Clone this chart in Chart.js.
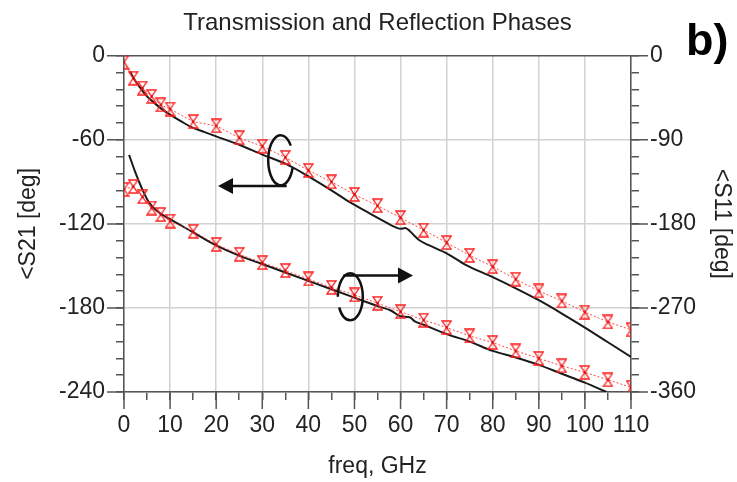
<!DOCTYPE html>
<html>
<head>
<meta charset="utf-8">
<title>Transmission and Reflection Phases</title>
<script src="https://cdn.jsdelivr.net/npm/chart.js@4/dist/chart.umd.min.js"></script>
<style>
    html, body { margin: 0; padding: 0; background: #fff; }
</style>
</head>
<body>
<canvas id="phaseChart" width="737" height="482"></canvas>
<script>
// simulated points (red markers), same frequencies for both phases
const simFreq = [0, 2, 4, 6, 8, 10, 15, 20, 25, 30, 35, 40, 45, 50, 55, 60, 65, 70, 75, 80, 85, 90, 95, 100, 105, 110];
const s21Sim = [-4.5, -16, -23, -29, -35, -38, -47, -50, -58.5, -64.6, -72.5, -81.8, -90, -99, -107, -115.6, -124.4, -133.4, -142.5, -150.5, -159.5, -167.9, -175, -183, -190, -195.6];
const s11Sim = [-143, -140, -151, -163, -170, -177, -188, -202, -212.6, -221.5, -230, -239, -248, -256, -265, -274, -283, -291, -300, -307, -316, -324, -332, -339, -347, -355];

// measured traces (black)
const s21MeasFreq = [1.3, 2, 3, 4, 5, 6, 8, 10, 12.5, 15, 17.5, 20, 25, 30, 35, 40, 45, 49, 53, 56, 58, 59, 60, 61, 62, 63, 64, 66, 70, 74, 80, 85, 90, 95, 100, 105, 110];
const s21Meas = [-11, -15.5, -20.5, -25, -29, -32, -37.5, -42, -47, -51.5, -54.5, -57.5, -63.5, -70.5, -77, -86, -96, -104.5, -112, -117.5, -121, -122.5, -123.5, -123, -125, -128.5, -131.5, -135, -141, -149, -158, -166, -174.5, -184, -194, -204.5, -215];
const s11MeasFreq = [1.1, 2.4, 3.8, 5.3, 7.1, 10, 15, 20, 25, 30, 35, 40, 45, 50, 55, 58, 60, 62, 63, 65, 70, 75, 80, 85, 90, 95, 100, 104.7];
const s11Meas = [-106, -124, -141, -156, -166, -175, -189, -203, -214, -223, -232, -241, -250, -259, -268, -273, -279, -280, -284, -288, -298, -306, -316, -323, -331, -340.5, -350, -360];

// labelled ticks
const freqTicks = [0, 10, 20, 30, 40, 50, 60, 70, 80, 90, 100, 110];
const s21Ticks = [0, -60, -120, -180, -240];
const s11Ticks = [0, -90, -180, -270, -360];

const axisColor = '#555';
const gridColor = '#d2d2d2';
const simRed = 'rgb(255, 30, 30)';

function toPoints(xs, ys) {
    return xs.map((x, i) => ({ x: x, y: ys[i] }));
}

// hourglass marker
function makeMarker() {
    const c = document.createElement('canvas');
    c.width = 11;
    c.height = 15;
    const g = c.getContext('2d');
    g.strokeStyle = simRed;
    g.lineWidth = 1.3;
    g.beginPath();
    g.moveTo(1, 1);
    g.lineTo(10, 1);
    g.lineTo(1, 14);
    g.lineTo(10, 14);
    g.closePath();
    g.stroke();
    g.fillStyle = 'rgb(190, 0, 0)';
    g.fillRect(4.5, 6.5, 2, 2);
    return c;
}
const marker = makeMarker();

// major ticks are longer, loops with arrows, panel letter
const extrasPlugin = {
    id: 'extras',
    afterDraw(chart) {
        const { ctx, chartArea, scales } = chart;
        const x = scales.x, yl = scales.y;
        const major = 17;
        ctx.save();
        ctx.strokeStyle = axisColor;
        ctx.lineWidth = 1.5;
        ctx.beginPath();
        freqTicks.forEach(v => {
            const px = x.getPixelForValue(v);
            ctx.moveTo(px, chartArea.bottom);
            ctx.lineTo(px, chartArea.bottom + major);
        });
        s21Ticks.forEach(v => {
            const py = yl.getPixelForValue(v);
            ctx.moveTo(chartArea.left, py);
            ctx.lineTo(chartArea.left - major, py);
        });
        s11Ticks.forEach(v => {
            const py = scales.y2.getPixelForValue(v);
            ctx.moveTo(chartArea.right, py);
            ctx.lineTo(chartArea.right + major, py);
        });
        ctx.stroke();

        ctx.strokeStyle = '#111';
        ctx.fillStyle = '#111';
        ctx.lineWidth = 2.5;

        // loop + arrow pointing to the left axis
        let cx = x.getPixelForValue(34), cy = yl.getPixelForValue(-74.6);
        ctx.beginPath();
        ctx.ellipse(cx, cy, 12.5, 25, 0, -0.2 * Math.PI, 0.1 * Math.PI, true);
        ctx.stroke();
        let sy = yl.getPixelForValue(-93);
        let tip = x.getPixelForValue(20.4);
        ctx.beginPath();
        ctx.moveTo(cx + 6, sy);
        ctx.lineTo(tip + 12, sy);
        ctx.stroke();
        ctx.beginPath();
        ctx.moveTo(tip, sy);
        ctx.lineTo(tip + 15, sy - 8);
        ctx.lineTo(tip + 15, sy + 8);
        ctx.closePath();
        ctx.fill();

        // loop + arrow pointing to the right axis
        cx = x.getPixelForValue(49.1);
        cy = yl.getPixelForValue(-172);
        ctx.beginPath();
        ctx.ellipse(cx, cy, 12.5, 23.5, 0, Math.PI, 0.85 * Math.PI, false);
        ctx.stroke();
        sy = yl.getPixelForValue(-156.8);
        tip = x.getPixelForValue(62.7);
        ctx.beginPath();
        ctx.moveTo(cx - 7, sy);
        ctx.lineTo(tip - 12, sy);
        ctx.stroke();
        ctx.beginPath();
        ctx.moveTo(tip, sy);
        ctx.lineTo(tip - 15, sy - 8);
        ctx.lineTo(tip - 15, sy + 8);
        ctx.closePath();
        ctx.fill();

        ctx.fillStyle = '#000';
        ctx.font = "bold 45px 'Liberation Sans', Arial, sans-serif";
        ctx.textBaseline = 'alphabetic';
        ctx.textAlign = 'left';
        ctx.fillText('b)', 686, 55);
        ctx.restore();
    }
};

Chart.defaults.font.family = "'Liberation Sans', Arial, sans-serif";
Chart.defaults.color = '#222';

const simStyle = {
    showLine: true,
    borderColor: 'rgba(255, 40, 40, 0.85)',
    borderWidth: 1,
    borderDash: [2, 2],
    pointStyle: marker,
    pointRadius: 6,
    pointHoverRadius: 6
};
const measStyle = {
    borderColor: '#1a1a1a',
    borderWidth: 2,
    pointRadius: 0,
    cubicInterpolationMode: 'monotone'
};

const tickFont = { size: 23 };

new Chart(document.getElementById('phaseChart'), {
    type: 'line',
    data: {
        datasets: [
            Object.assign({ label: '<S21 sim', data: toPoints(simFreq, s21Sim), yAxisID: 'y' }, simStyle),
            Object.assign({ label: '<S11 sim', data: toPoints(simFreq, s11Sim), yAxisID: 'y2' }, simStyle),
            Object.assign({ label: '<S21 meas', data: toPoints(s21MeasFreq, s21Meas), yAxisID: 'y' }, measStyle),
            Object.assign({ label: '<S11 meas', data: toPoints(s11MeasFreq, s11Meas), yAxisID: 'y2' }, measStyle)
        ]
    },
    options: {
        responsive: false,
        animation: false,
        events: [],
        layout: { padding: 0 },
        plugins: {
            legend: { display: false },
            tooltip: { enabled: false },
            title: {
                display: true,
                fullSize: false,
                text: 'Transmission and Reflection Phases',
                font: { size: 24, weight: 'normal' },
                color: '#222',
                padding: { top: 9, bottom: 18 }
            }
        },
        scales: {
            x: {
                type: 'linear',
                min: 0,
                max: 110,
                ticks: {
                    stepSize: 5,
                    autoSkip: false,
                    maxRotation: 0,
                    padding: 12,
                    font: tickFont,
                    color: '#222',
                    callback: v => freqTicks.includes(v) ? String(v) : ''
                },
                grid: {
                    color: c => freqTicks.includes(c.tick.value) ? gridColor : 'rgba(0,0,0,0)',
                    lineWidth: 1.5,
                    tickColor: axisColor,
                    tickLength: 8
                },
                border: { color: axisColor, width: 1.5 },
                title: { display: true, text: 'freq, GHz', font: { size: 23 }, padding: { top: 0, bottom: 2 } },
                afterFit: s => { s.height = 90; }
            },
            y: {
                position: 'left',
                min: -240,
                max: 0,
                ticks: {
                    stepSize: 12,
                    autoSkip: false,
                    padding: 11,
                    font: tickFont,
                    color: '#222',
                    callback: v => s21Ticks.includes(v) ? String(v) : ''
                },
                grid: {
                    color: c => c.tick.value === 0 ? axisColor : (s21Ticks.includes(c.tick.value) ? gridColor : 'rgba(0,0,0,0)'),
                    lineWidth: 1.5,
                    tickColor: axisColor,
                    tickLength: 8
                },
                border: { color: axisColor, width: 1.5 },
                title: { display: true, text: '<S21 [deg]', font: { size: 23 }, padding: { top: 15, bottom: 0 } },
                afterFit: s => { s.width = 124; }
            },
            y2: {
                position: 'right',
                min: -360,
                max: 0,
                ticks: {
                    stepSize: 18,
                    autoSkip: false,
                    padding: 11,
                    font: tickFont,
                    color: '#222',
                    callback: v => s11Ticks.includes(v) ? String(v) : ''
                },
                grid: {
                    drawOnChartArea: false,
                    tickColor: axisColor,
                    lineWidth: 1.5,
                    tickLength: 8
                },
                border: { color: axisColor, width: 1.5 },
                title: { display: true, text: '<S11 [deg]', font: { size: 23 }, padding: { top: 2, bottom: 0 } },
                afterFit: s => { s.width = 106; }
            }
        }
    },
    plugins: [extrasPlugin]
});
</script>
</body>
</html>
